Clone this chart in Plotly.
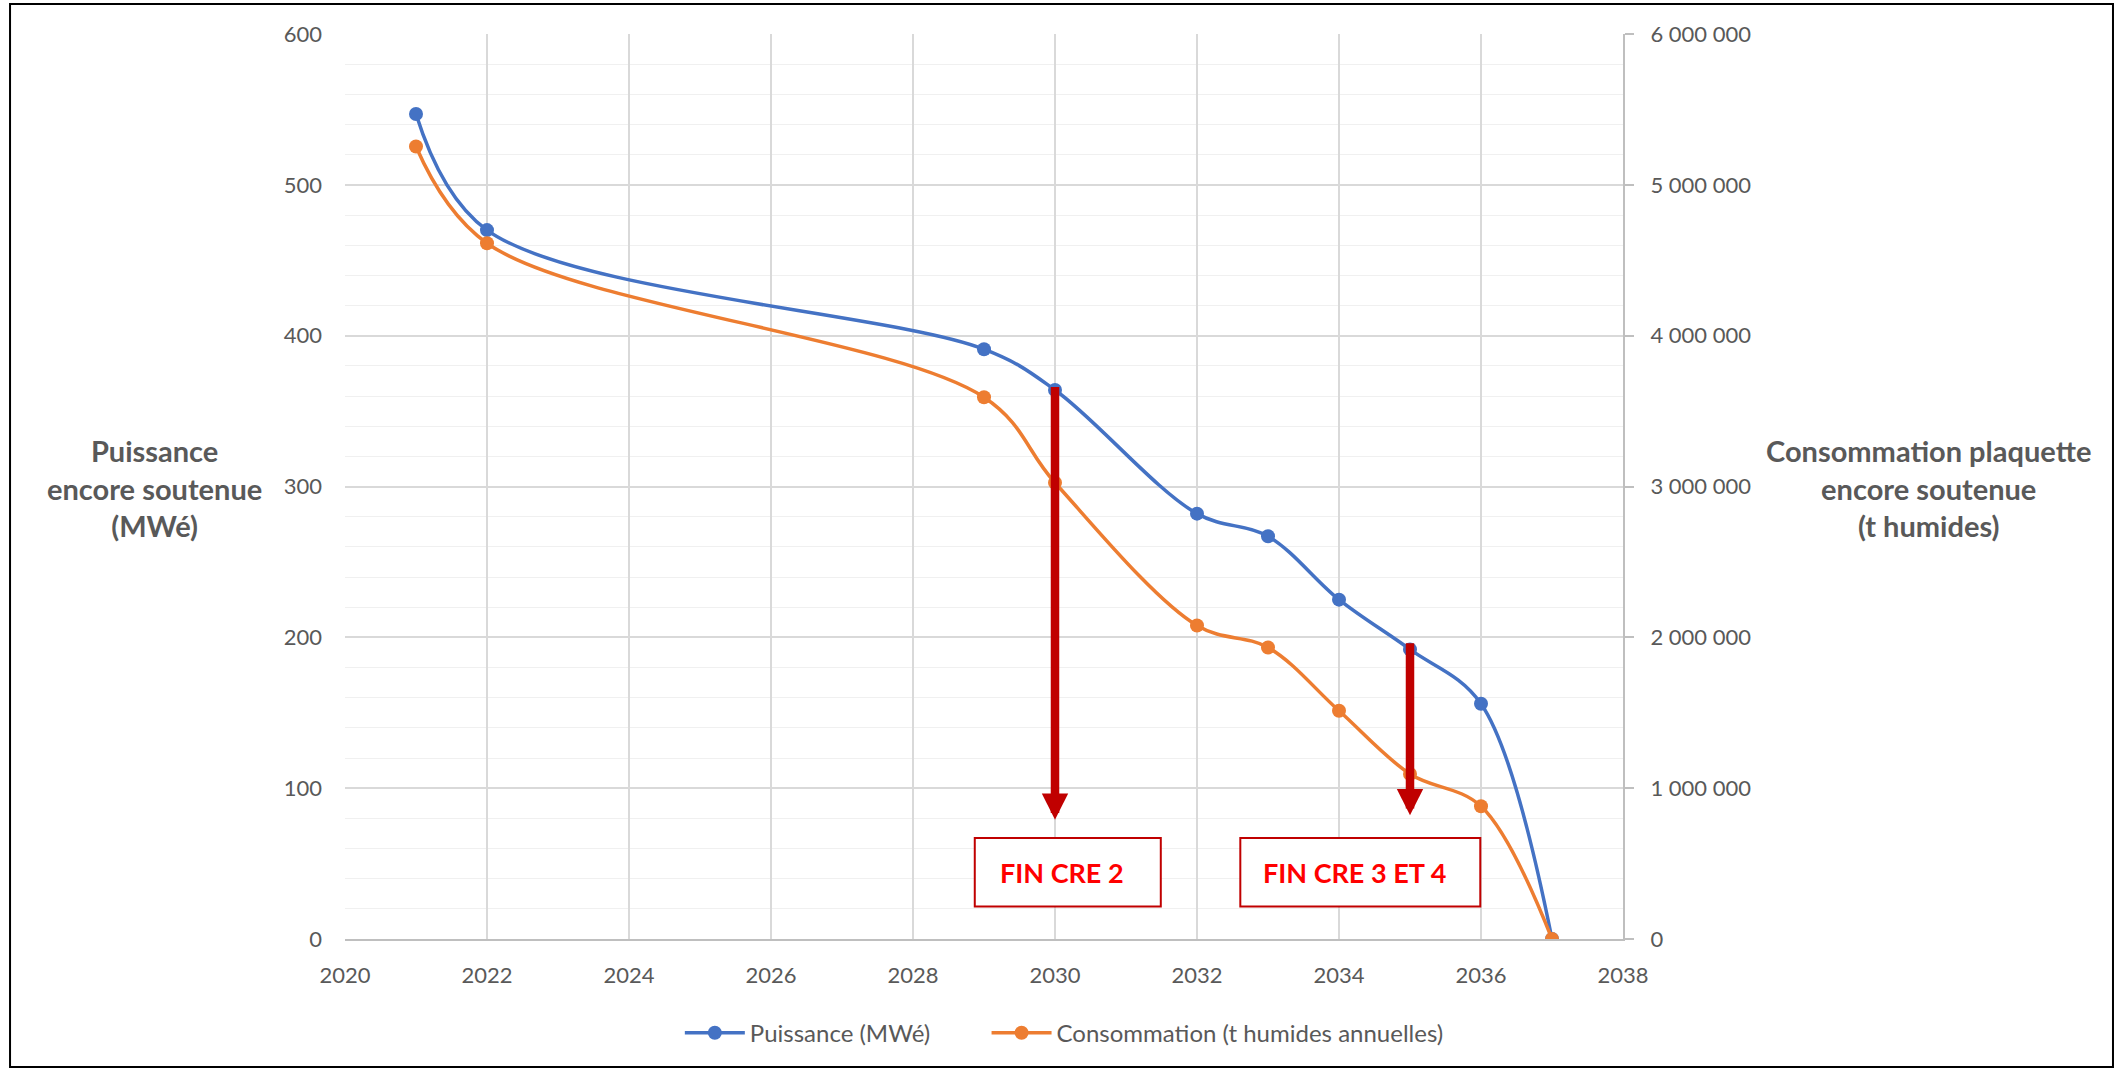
import plotly.graph_objects as go

# ---- data ----
years = [2021, 2022, 2029, 2030, 2032, 2033, 2034, 2035, 2036, 2037]
puissance = [547, 470, 391, 364, 282, 267, 225, 192, 156, 0]
consommation = [5254000, 4613000, 3592000, 3025000, 2078000, 1933000, 1513000, 1094000, 880000, 0]

left_ticks = [0, 100, 200, 300, 400, 500, 600]
right_ticks = [0, 1000000, 2000000, 3000000, 4000000, 5000000, 6000000]
right_tick_labels = ["0", "1 000 000", "2 000 000", "3 000 000", "4 000 000", "5 000 000", "6 000 000"]
x_ticks = list(range(2020, 2039, 2))

series_names = ["Puissance (MWé)", "Consommation (t humides annuelles)"]
left_title = "Puissance<br>encore soutenue<br>(MWé)"
right_title = "Consommation plaquette<br>encore soutenue<br>(t humides)"

# arrows: (year, start value, end value) on left axis
arrows = [(2030, 367, 79), (2035, 197, 82)]
# boxes: (x0, x1, y0, y1, text)
boxes = [(2028.87, 2031.49, 21.6, 67, "FIN CRE 2"),
         (2032.61, 2035.99, 21.6, 67, "FIN CRE 3 ET 4")]

BLUE = "#4472C4"
ORANGE = "#ED7D31"
GRAY = "#595959"
FONT = "Lato"

fig = go.Figure()
fig.add_trace(go.Scatter(
    x=years, y=puissance, name=series_names[0], mode="lines+markers",
    line=dict(color=BLUE, width=3.5, shape="spline", smoothing=1),
    marker=dict(color=BLUE, size=14), yaxis="y", legend="legend"))
fig.add_trace(go.Scatter(
    x=years, y=consommation, name=series_names[1], mode="lines+markers",
    line=dict(color=ORANGE, width=3.5, shape="spline", smoothing=1),
    marker=dict(color=ORANGE, size=14), yaxis="y2", legend="legend2"))

annotations = []
shapes = []
for (xa, y_start, y_end) in arrows:
    annotations.append(dict(
        x=xa, y=y_end, ax=xa, ay=y_start, xref="x", yref="y", axref="x", ayref="y",
        text="", showarrow=True, arrowhead=2, arrowsize=0.62, arrowwidth=8.5,
        arrowcolor="#C00000", standoff=0, startstandoff=0))

for (x0, x1, y0, y1, txt) in boxes:
    shapes.append(dict(type="rect", xref="x", yref="y", x0=x0, x1=x1, y0=y0, y1=y1,
                       line=dict(color="#C00000", width=2), fillcolor="white", layer="above"))
    annotations.append(dict(x=(x0 + x1) / 2 - 0.08, y=(y0 + y1) / 2, xref="x", yref="y",
                            text="<b>" + txt + "</b>", showarrow=False,
                            font=dict(family=FONT, size=27, color="#FF0000")))

annotations.append(dict(x=-0.1487, y=0.498, xref="paper", yref="paper", text="<b>" + left_title + "</b>",
                        showarrow=False, align="center", xanchor="center", yanchor="middle",
                        font=dict(family=FONT, size=29, color=GRAY)))
annotations.append(dict(x=1.2387, y=0.498, xref="paper", yref="paper", text="<b>" + right_title + "</b>",
                        showarrow=False, align="center", xanchor="center", yanchor="middle",
                        font=dict(family=FONT, size=29, color=GRAY)))

# outer frame
shapes.append(dict(type="rect", xref="paper", yref="paper", x0=-0.2621, x1=1.3834, y0=-0.1414, y1=1.0331,
                   line=dict(color="black", width=2), layer="above"))

legend_style = dict(orientation="h", y=-0.104, xanchor="left", yanchor="middle",
                    font=dict(family=FONT, size=24, color=GRAY), itemwidth=60,
                    bgcolor="rgba(0,0,0,0)")

fig.update_layout(
    width=2118, height=1071, autosize=False,
    margin=dict(l=345, r=495, t=34, b=132),
    paper_bgcolor="white", plot_bgcolor="white",
    font=dict(family=FONT, color=GRAY, size=22),
    showlegend=True,
    legend=dict(x=0.262, **legend_style),
    legend2=dict(x=0.502, **legend_style),
    xaxis=dict(range=[2020, 2038], tickvals=x_ticks, showgrid=True, gridcolor="#D9D9D9", gridwidth=1.5,
               showline=True, linecolor="#BFBFBF", linewidth=2, zeroline=False, ticks="",
               ticklabelstandoff=16, tickfont=dict(size=22, color=GRAY)),
    yaxis=dict(range=[0, 600], tickvals=left_ticks, showgrid=True, gridcolor="#D9D9D9", gridwidth=1.5,
               zeroline=False, showline=False, ticks="", ticklabelstandoff=22,
               tickfont=dict(size=22, color=GRAY),
               minor=dict(dtick=20, showgrid=True, gridcolor="#F0F0F0", gridwidth=1)),
    yaxis2=dict(range=[0, 6000000], tickvals=right_ticks, ticktext=right_tick_labels, overlaying="y",
                side="right", showgrid=False, zeroline=False, showline=True, linecolor="#BFBFBF",
                linewidth=2, ticks="outside", ticklen=9, tickcolor="#BFBFBF", tickwidth=1.5,
                ticklabelstandoff=12, tickfont=dict(size=22, color=GRAY)),
    annotations=annotations, shapes=shapes,
)

fig.write_html("out.html", config={"displayModeBar": False},
               post_script="document.body.style.margin='0';document.body.style.overflow='hidden';")
